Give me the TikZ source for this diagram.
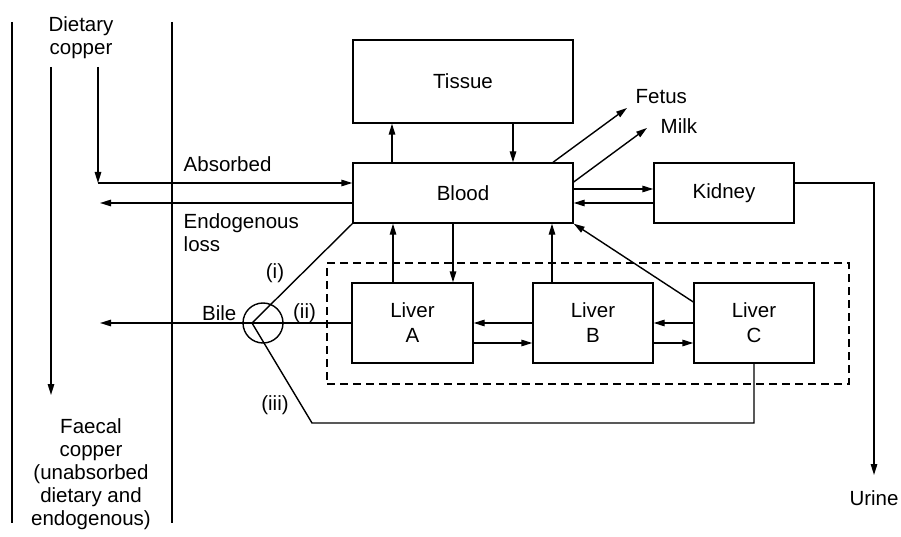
\documentclass[tikz,border=0pt]{standalone}
\usepackage{fontspec}
\setmainfont{Liberation Sans}
\usetikzlibrary{arrows.meta,calc}
\begin{document}
\begin{tikzpicture}[x=1pt,y=-1pt, line width=1.4pt,
  every node/.style={font=\fontsize{20.5}{23}\selectfont},
  box/.style={draw, rectangle, inner sep=0pt, align=center},
  liverbox/.style={box, minimum width=120pt, minimum height=80pt, font=\fontsize{20.5}{25}\selectfont},
  zone/.style={draw, rectangle, inner sep=0pt, dash pattern=on 8pt off 5pt},
  arr/.style={-{Triangle[length=11pt,width=6.5pt]}},
  lbl/.style={inner sep=0pt},
]
\useasboundingbox (0,0) rectangle (901,537);

% boxes
\node[box, minimum width=220pt, minimum height=83pt] (tissue) at (463,81.5) {Tissue};
\node[box, minimum width=220pt, minimum height=60pt] (blood) at (463,193) {Blood};
\node[box, minimum width=140pt, minimum height=60pt] (kidney) at (724,193) {\raisebox{-2pt}{Kidney}};
\node[zone, minimum width=522pt, minimum height=121pt] (liverzone) at (588,323.5) {};
\node[liverbox, minimum width=121pt] (livera) at (412.5,323) {Liver\\A};
\node[liverbox] (liverb) at (593,323) {Liver\\B};
\node[liverbox] (liverc) at (754,323) {Liver\\C};
\node[draw, circle, minimum size=40pt, inner sep=0pt] (bilering) at (263,323) {};

% labels
\node[lbl, align=center, font=\fontsize{20.5}{22.5}\selectfont] (dietary) at (81,37.5) {Dietary\\copper};
\node[lbl, align=center] (faecal) at (91,474) {Faecal\\copper\\(unabsorbed\\dietary and\\endogenous)};
\node[lbl, anchor=base west] (absorbed) at (183,172) {Absorbed};
\node[lbl, anchor=west, align=left] (endo) at (183,233) {Endogenous\\loss};
\node[lbl, anchor=base west] (fetus) at (635,104) {Fetus};
\node[lbl, anchor=base west] (milk) at (660,134) {Milk};
\node[lbl, anchor=base] (urine) at (874,505) {Urine};
\node[lbl, anchor=base east] (bile) at (237,320) {Bile};
\node[lbl] (pi) at (275,273) {(i)};
\node[lbl] (pii) at (304.5,313) {(ii)};
\node[lbl] (piii) at (275,405) {(iii)};

% free ends
\coordinate (gutatop) at (12,22);
\coordinate (gutabot) at (12,523);
\coordinate (gutbtop) at (172,22);
\coordinate (gutbbot) at (172,523);
\coordinate (faecaltop) at (51,67);
\coordinate (faecaltip) at (51,395);
\coordinate (diettop) at (98,67);
\coordinate (dietturn) at (98,183);
\coordinate (endotip) at (100,203);
\coordinate (fetustip) at (627,108);
\coordinate (milktip) at (647,128);
\coordinate (urinetip) at (874,475);
\coordinate (bilept) at (252,323);
\coordinate (biletip) at (100,323);
\coordinate (bilebend) at (312,423);

% gut walls
\draw (gutatop) -- (gutabot);
\draw (gutbtop) -- (gutbbot);
\draw[arr] (faecaltop) -- (faecaltip);

% dietary
\draw[arr] (diettop) -- (dietturn);
\draw[arr] (dietturn) -- (blood.west |- dietturn);
\draw[arr] (blood.west |- 0,203) -- (endotip);

% tissue
\draw[arr] (blood.north -| 392,0) -- (tissue.south -| 392,0);
\draw[arr] (tissue.south -| 513,0) -- (blood.north -| 513,0);

% fetus, milk
\draw[arr] (blood.north -| 553,0) -- (fetustip);
\draw[arr] (blood.east |- 0,182) -- (milktip);

% kidney
\draw[arr] (blood.east |- 0,189) -- (kidney.west |- 0,189);
\draw[arr] (kidney.west |- 0,203) -- (blood.east |- 0,203);
\draw[arr] (kidney.east |- 0,183) -| (urinetip);

% bile
\draw[arr] (bilept) -- (biletip);
\draw (bilept) -- (blood.south west);
\draw (bilept) -- (livera.west);
\draw (bilept) -- (bilebend) -| (liverc.south);

% liver
\draw[arr] (livera.north -| 393,0) -- (blood.south -| 393,0);
\draw[arr] (blood.south -| 453,0) -- (livera.north -| 453,0);
\draw[arr] (liverb.north -| 552,0) -- (blood.south -| 552,0);
\draw[arr] (liverc.west |- 0,302) -- (blood.south east);
\draw[arr] (liverb.west |- 0,323) -- (livera.east |- 0,323);
\draw[arr] (livera.east |- 0,343) -- (liverb.west |- 0,343);
\draw[arr] (liverc.west |- 0,323) -- (liverb.east |- 0,323);
\draw[arr] (liverb.east |- 0,343) -- (liverc.west |- 0,343);
\end{tikzpicture}
\end{document}
